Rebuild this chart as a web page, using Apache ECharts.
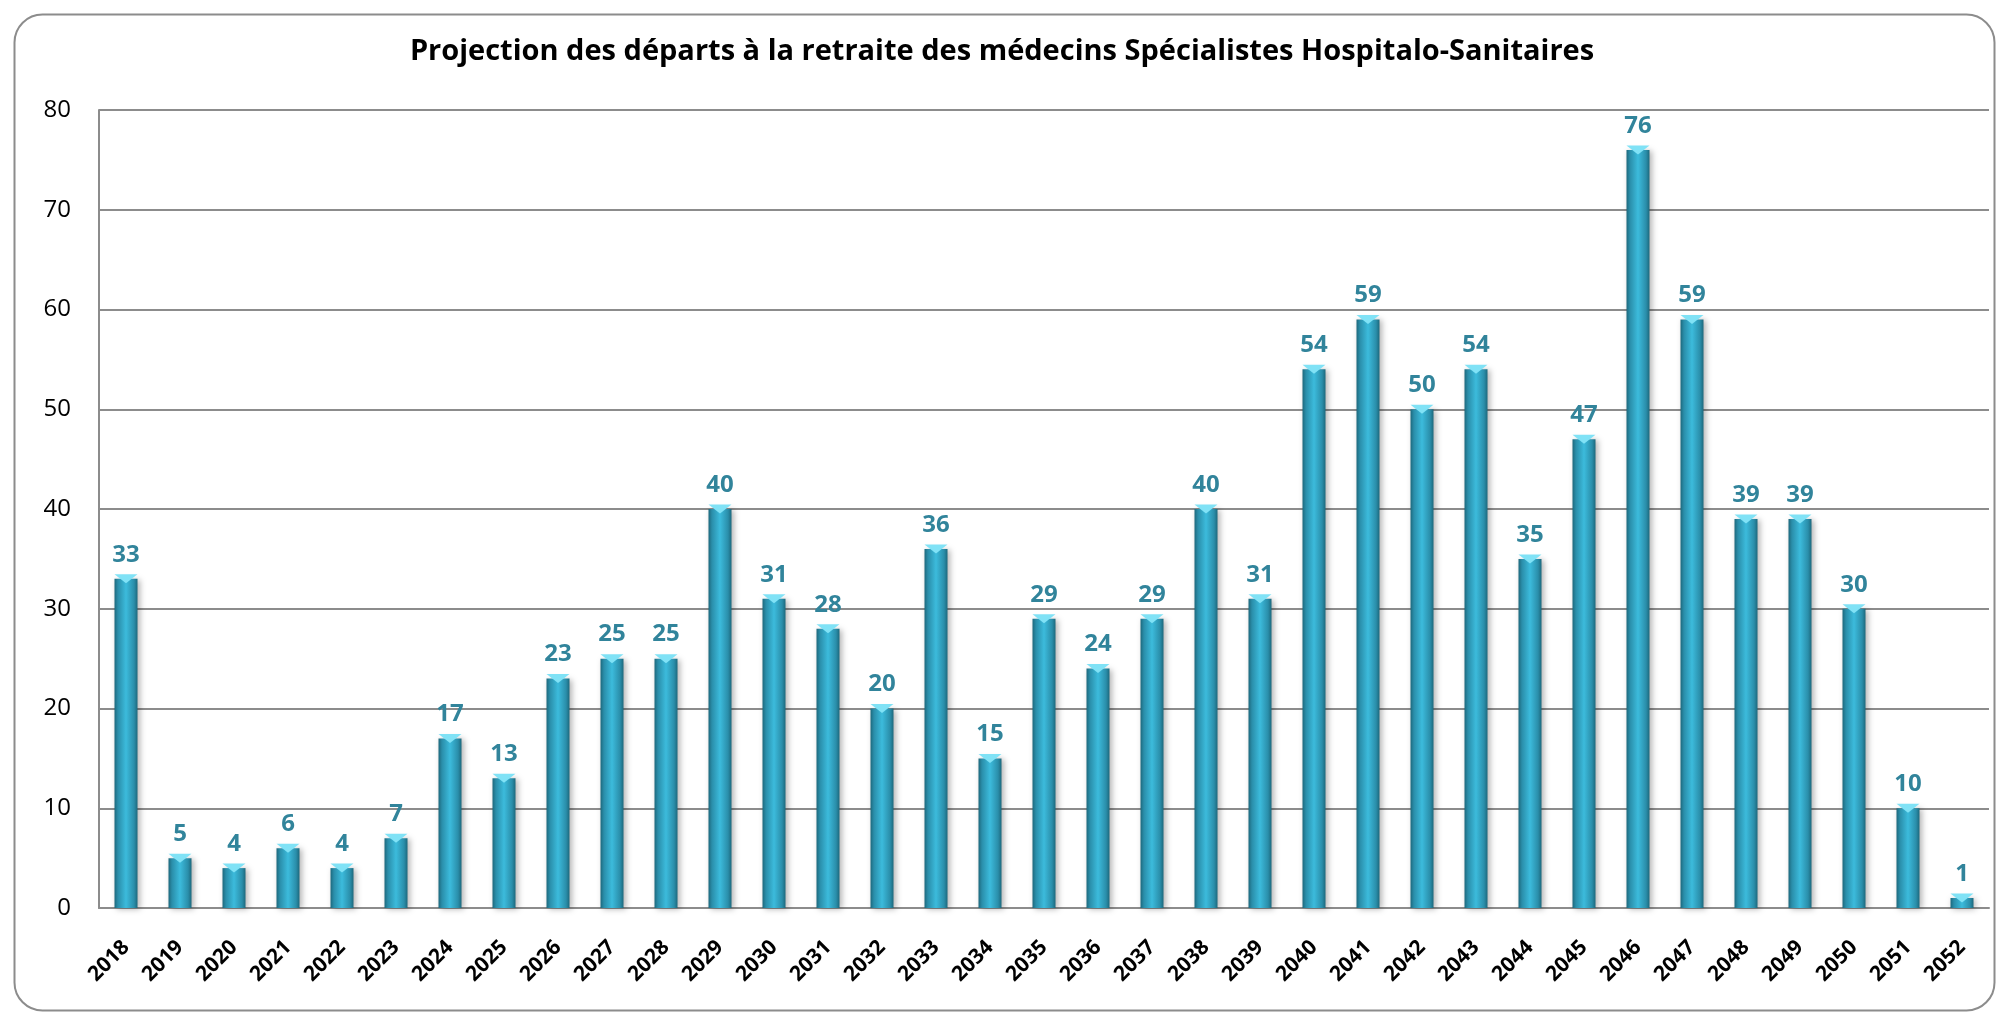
<!DOCTYPE html>
<html><head><meta charset="utf-8">
<script src="https://cdn.jsdelivr.net/npm/echarts@6/dist/echarts.min.js"></script>
<style>html,body{margin:0;padding:0;background:#fff}#c{width:2004px;height:1019px}</style>
</head><body><div id="c"></div>
<script>
const categories = ['2018','2019','2020','2021','2022','2023','2024','2025','2026','2027','2028','2029','2030','2031','2032','2033','2034','2035','2036','2037','2038','2039','2040','2041','2042','2043','2044','2045','2046','2047','2048','2049','2050','2051','2052'];
const departs = [33,5,4,6,4,7,17,13,23,25,25,40,31,28,20,36,15,29,24,29,40,31,54,59,50,54,35,47,76,59,39,39,30,10,1];
const titleText = 'Projection des départs à la retraite des médecins Spécialistes Hospitalo-Sanitaires';
const yTicks = {min:0, max:80, interval:10};

const chart = echarts.init(document.getElementById('c'));
const font = '"Open Sans", "Liberation Sans", sans-serif';
chart.setOption({
  animation:false,
  backgroundColor:'#fff',
  graphic:[{type:'rect', left:12, top:12, shape:{width:1980, height:996, r:28}, style:{fill:'none', stroke:'#8c8c8c', lineWidth:2}, z:-1}],
  title:{text:titleText, left:'center', top:32, textStyle:{fontFamily:font, fontWeight:'bold', fontSize:29, color:'#000'}},
  grid:{left:99, right:15, top:110, bottom:111},
  xAxis:{type:'category', data:categories,
    axisLine:{lineStyle:{color:'#8c8c8c', width:2}}, axisTick:{show:false},
    axisLabel:{rotate:45, margin:36, interval:0, fontFamily:font, fontWeight:'bold', fontSize:21, color:'#000'}},
  yAxis:{type:'value', min:yTicks.min, max:yTicks.max, interval:yTicks.interval,
    axisLine:{show:true, lineStyle:{color:'#8c8c8c', width:2}}, axisTick:{show:false},
    splitLine:{lineStyle:{color:'#8c8c8c', width:2}},
    axisLabel:{margin:28, fontFamily:font, fontSize:24, color:'#000'}},
  series:[{
    type:'bar', data:departs, barWidth:23,
    itemStyle:{color:new echarts.graphic.LinearGradient(0,0,1,0,[
      {offset:0,color:'#1d687c'},{offset:0.15,color:'#2a8eaa'},{offset:0.5,color:'#3cbbdc'},{offset:0.85,color:'#2a8eaa'},{offset:1,color:'#1d687c'}]),
      shadowColor:'rgba(0,0,0,0.3)', shadowBlur:6, shadowOffsetX:2, shadowOffsetY:1},
    label:{show:true, position:'top', distance:12, fontFamily:font, fontWeight:'bold', fontSize:24, color:'#31849b'}
  },{
    type:'pictorialBar', data:departs, symbol:'triangle', symbolRotate:180, symbolSize:[23,9],
    symbolPosition:'end', symbolOffset:[0,'-50%'], itemStyle:{color:'#80e2f6'}, z:3, silent:true
  }]
});
</script></body></html>
